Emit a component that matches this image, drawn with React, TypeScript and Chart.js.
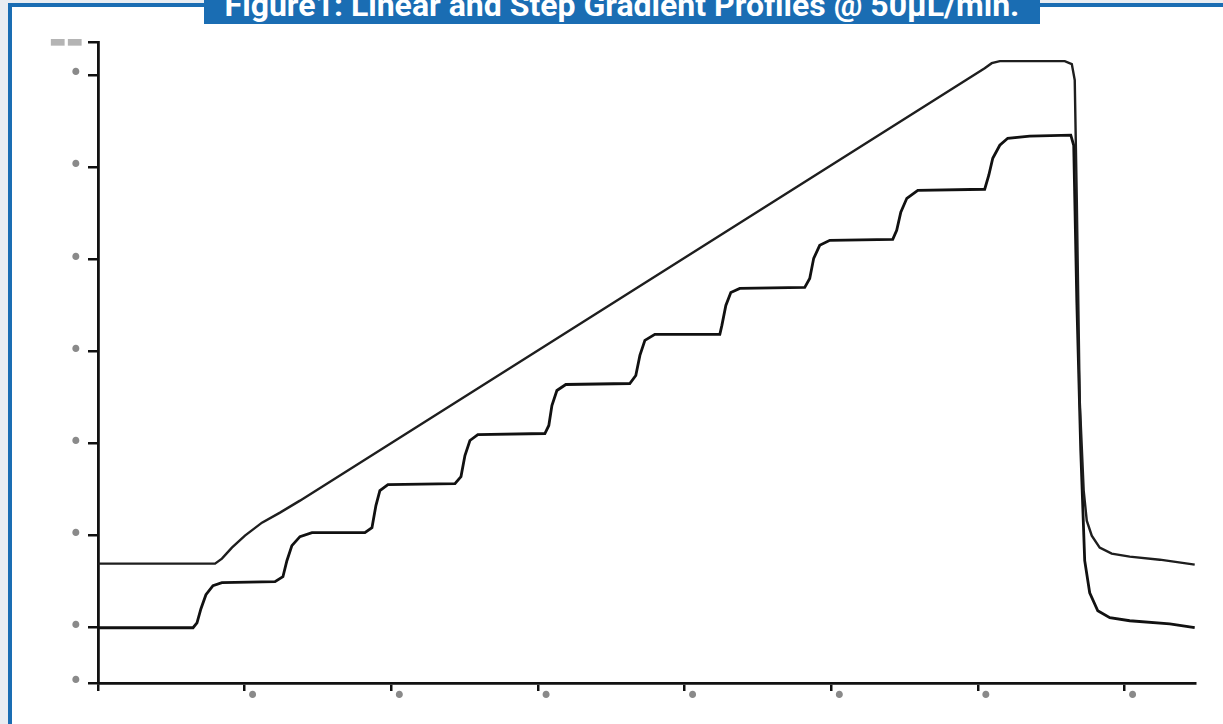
import React, { useEffect, useRef } from "react";
import { Chart, registerables } from "chart.js";

Chart.register(...registerables);

const TITLE = "Figure1: Linear and Step Gradient Profiles @ 50µL/min.";

// Linear gradient profile (upper trace)
const linearX = [0.0, 0.798, 0.845, 0.913, 1.002, 1.118, 1.241, 1.377, 6.046, 6.094, 6.149, 6.592, 6.64, 6.66, 6.674, 6.694, 6.721, 6.742, 6.776, 6.83, 6.912, 7.035, 7.24, 7.478];
const linearY = [0.696, 0.696, 0.75, 0.87, 1.0, 1.141, 1.25, 1.38, 6.076, 6.13, 6.152, 6.152, 6.12, 5.946, 4.641, 2.467, 1.489, 1.163, 1.0, 0.87, 0.804, 0.772, 0.739, 0.685];

// Step gradient profile (lower trace)
const stepX = [0, 0.648, 0.675, 0.702, 0.736, 0.784, 0.845, 1.207, 1.261, 1.288, 1.322, 1.377, 1.459, 1.82, 1.868, 1.895, 1.922, 1.977, 2.434, 2.475, 2.502, 2.536, 2.59, 3.047, 3.074, 3.095, 3.129, 3.19, 3.626, 3.667, 3.695, 3.729, 3.797, 4.24, 4.254, 4.281, 4.315, 4.376, 4.819, 4.853, 4.88, 4.921, 4.99, 5.419, 5.446, 5.474, 5.515, 5.59, 6.046, 6.074, 6.101, 6.149, 6.203, 6.353, 6.633, 6.653, 6.674, 6.701, 6.728, 6.762, 6.817, 6.899, 7.035, 7.308, 7.478];
const stepY = [0, 0, 0.054, 0.207, 0.359, 0.457, 0.489, 0.5, 0.554, 0.728, 0.891, 0.989, 1.033, 1.033, 1.087, 1.326, 1.489, 1.554, 1.565, 1.641, 1.87, 2.033, 2.098, 2.109, 2.196, 2.413, 2.576, 2.641, 2.652, 2.739, 2.957, 3.12, 3.185, 3.185, 3.283, 3.5, 3.641, 3.685, 3.696, 3.793, 4.011, 4.152, 4.207, 4.217, 4.315, 4.511, 4.663, 4.75, 4.761, 4.913, 5.098, 5.239, 5.315, 5.337, 5.348, 5.239, 3.554, 1.924, 0.728, 0.38, 0.185, 0.109, 0.076, 0.043, 0.0];

const xTicks = [0, 1, 2, 3, 4, 5, 6, 7];
const yTicks = [-0.6, 0, 1, 2, 3, 4, 5, 6, 6.36];
const X_MIN = 0;
const X_MAX = 7.48;
const Y_MIN = -0.6;
const Y_MAX = 6.36;

const BLUE = "#1a6db3";

export default function App() {
  const ref = useRef<HTMLCanvasElement | null>(null);

  useEffect(() => {
    document.body.style.margin = "0";
    const canvas = ref.current;
    if (!canvas) return;
    const chart = new Chart(canvas, {
      type: "line",
      data: {
        datasets: [
          {
            data: linearX.map((x, i) => ({ x, y: linearY[i] })),
            borderColor: "#1e1e1e",
            borderWidth: 2.4,
            pointRadius: 0,
            tension: 0,
          },
          {
            data: stepX.map((x, i) => ({ x, y: stepY[i] })),
            borderColor: "#111111",
            borderWidth: 2.8,
            pointRadius: 0,
            tension: 0,
          },
        ],
      },
      options: {
        animation: false,
        responsive: false,
        maintainAspectRatio: false,
        layout: { padding: { left: 0, top: 42, right: 28, bottom: 0 } },
        plugins: {
          legend: { display: false },
          tooltip: { enabled: false },
          title: { display: false },
        },
        scales: {
          x: {
            type: "linear",
            min: X_MIN,
            max: X_MAX,
            afterFit: (s: any) => {
              s.height = 41;
            },
            afterBuildTicks: (s: any) => {
              s.ticks = xTicks.map((v) => ({ value: v }));
            },
            grid: {
              drawOnChartArea: false,
              drawTicks: true,
              tickLength: 8,
              color: "#111",
              lineWidth: 2.5,
            },
            border: { color: "#111", width: 2.8 },
            ticks: {
              autoSkip: false,
              maxRotation: 0,
              labelOffset: 8,
              padding: -8,
              color: "#8a8a8a",
              font: { family: "DejaVu Sans", size: 24 },
              callback: (v: any) => (Number(v) === 0 ? "" : "•"),
            },
          },
          y: {
            type: "linear",
            min: Y_MIN,
            max: Y_MAX,
            afterFit: (s: any) => {
              s.width = 98;
            },
            afterBuildTicks: (s: any) => {
              s.ticks = yTicks.map((v) => ({ value: v }));
            },
            grid: {
              drawOnChartArea: false,
              drawTicks: true,
              tickLength: 10,
              color: "#111",
              lineWidth: 2.5,
            },
            border: { color: "#111", width: 2.8 },
            ticks: {
              autoSkip: false,
              padding: 5,
              color: (c: any) => (c.tick && c.tick.value === Y_MAX ? "#b4b4b4" : "#8a8a8a"),
              font: (c: any) =>
                c.tick && c.tick.value === Y_MAX
                  ? { family: "DejaVu Sans", size: 18 }
                  : { family: "DejaVu Sans", size: 24 },
              callback: (v: any) => (Number(v) === Y_MAX ? "▬▬" : "•"),
            },
          },
        },
      },
    });
    return () => chart.destroy();
  }, []);

  return (
    <div
      style={{
        position: "fixed",
        left: 0,
        top: 0,
        width: 1223,
        height: 724,
        overflow: "hidden",
        background: "#e9edf2",
      }}
    >
      <div
        style={{
          position: "absolute",
          left: 8,
          top: 3,
          width: 1400,
          height: 900,
          borderLeft: `4px solid ${BLUE}`,
          borderTop: `4px solid ${BLUE}`,
          background: "#ffffff",
        }}
      />
      <div
        style={{
          position: "absolute",
          left: 204,
          top: 0,
          width: 836,
          height: 24,
          background: BLUE,
          overflow: "hidden",
        }}
      >
        <div
          style={{
            position: "absolute",
            left: 0,
            top: -11,
            width: 836,
            textAlign: "center",
            color: "#ffffff",
            fontFamily: "Roboto",
            fontWeight: 700,
            fontSize: 32,
            lineHeight: "32px",
            whiteSpace: "nowrap",
          }}
        >
          {TITLE}
        </div>
      </div>
      <canvas
        ref={ref}
        width={1223}
        height={724}
        style={{ position: "absolute", left: 0, top: 0, width: 1223, height: 724 }}
      />
    </div>
  );
}
